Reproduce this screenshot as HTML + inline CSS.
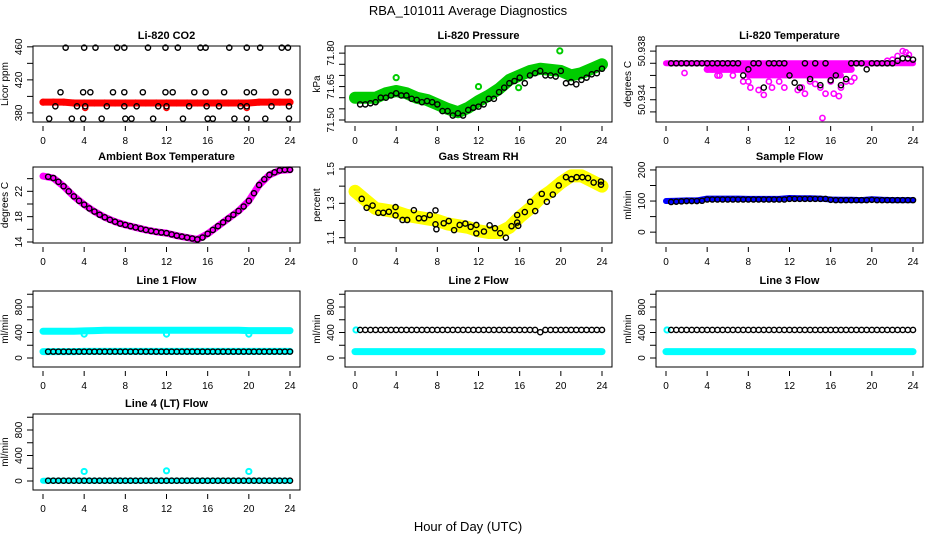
<!DOCTYPE html>
<html><head><meta charset="utf-8">
<style>
html,body{margin:0;padding:0;background:#fff;}
svg{display:block;font-family:"Liberation Sans",sans-serif;}
</style></head>
<body>
<svg id="chart" width="936" height="540" viewBox="0 0 936 540">
<text x="468" y="15" text-anchor="middle" font-size="13">RBA_101011  Average Diagnostics</text>
<text x="468" y="531" text-anchor="middle" font-size="13">Hour of Day (UTC)</text>
</svg>
<script>
const H48 = [0.5,1,1.5,2,2.5,3,3.5,4,4.5,5,5.5,6,6.5,7,7.5,8,8.5,9,9.5,10,10.5,11,11.5,12,12.5,13,13.5,14,14.5,15,15.5,16,16.5,17,17.5,18,18.5,19,19.5,20,20.5,21,21.5,22,22.5,23,23.5,24];
const H25 = [0,1,2,3,4,5,6,7,8,9,10,11,12,13,14,15,16,17,18,19,20,21,22,23,24];
const xTicks = [0,4,8,12,16,20,24];

// CO2
const co2RedV = [393,393,393,392,392,392,392,392,392,392,392,392,392,392,392,392,392,392,392,392,392,393,393,393,393];
const co2BlackH = [2.2,4.0,5.1,7.2,7.9,10.2,11.9,13.1,15.3,15.8,18.1,19.8,21.1,23.2,23.8, 1.7,3.9,4.6,6.8,7.9,9.7,11.9,12.6,14.7,15.8,17.6,19.8,20.5,22.6,23.8, 1.2,3.3,4.1,6.2,7.9,9.1,11.2,12.0,14.2,15.9,17.1,19.2,19.8,22.2,23.9, 0.6,2.8,3.9,5.7,8.0,8.6,10.7,13.6,16.0,16.5,18.6,19.8,21.6,23.9];
const co2BlackV = [459,459,459,459,459,459,459,459,459,459,459,459,459,459,459, 405,405,405,405,405,405,405,405,405,405,405,405,405,405,405, 388,388,388,388,388,388,388,388,388,388,388,388,388,388,388, 373,373,373,373,373,373,373,373,373,373,373,373,373,373];
const co2RedDipH = [4.1,12.0,19.8];
const co2RedDipV = [386,386,386];

// Pressure
const presGreenV = [71.60,71.60,71.60,71.62,71.63,71.62,71.60,71.59,71.57,71.55,71.535,71.555,71.585,71.61,71.64,71.68,71.70,71.72,71.73,71.725,71.72,71.70,71.71,71.73,71.75];
const presBlackV = [71.57,71.57,71.575,71.58,71.60,71.60,71.61,71.62,71.61,71.61,71.595,71.59,71.58,71.585,71.58,71.57,71.54,71.54,71.52,71.53,71.52,71.545,71.555,71.56,71.57,71.595,71.595,71.625,71.645,71.665,71.675,71.69,71.665,71.70,71.71,71.72,71.70,71.70,71.695,71.72,71.665,71.67,71.66,71.68,71.69,71.705,71.71,71.73];
const presOutH = [4.0,12.0,19.9,15.9];
const presOutV = [71.69,71.65,71.81,71.645];

// Li-820 temperature
const tempMainH = [0,24];
const tempMainV = [50.937,50.937];
const tempLayer2H = [4,18];
const tempLayer2V = [50.9365,50.9365];
const tempLayer3H = [8,17];
const tempLayer3V = [50.936,50.936];
const tempScatH = [1.8,4,4.5,5,5.2,6.5,7.5,8,8.2,9,9.5,10,10.3,11,11.5,12,12.8,13.2,13.5,14,14.5,15,15.2,15.5,16,16.3,16.8,17,17.5,18,18.3,21.5,22,22.5,23,23.3,23.6];
const tempScatV = [50.9362,50.9365,50.9365,50.936,50.936,50.936,50.9355,50.9355,50.935,50.9348,50.9344,50.9355,50.935,50.9355,50.935,50.936,50.9348,50.935,50.9345,50.9355,50.9353,50.935,50.9325,50.9345,50.9355,50.9345,50.9343,50.935,50.9355,50.9355,50.9358,50.9372,50.9373,50.9376,50.938,50.9379,50.9377];
const tempBlackV = [50.937,50.937,50.937,50.937,50.937,50.937,50.937,50.937,50.937,50.937,50.937,50.937,50.937,50.937,50.936,50.9365,50.937,50.937,50.935,50.937,50.937,50.937,50.937,50.936,50.9354,50.935,50.937,50.9357,50.937,50.9352,50.937,50.9356,50.936,50.9352,50.9357,50.937,50.937,50.937,50.9365,50.937,50.937,50.937,50.937,50.937,50.9372,50.9374,50.9374,50.9373];

// Ambient
const ambV25 = [24.4,24.1,22.8,21.2,19.9,18.8,17.9,17.2,16.7,16.3,15.9,15.6,15.4,15.0,14.7,14.4,15.3,16.5,17.7,18.9,20.5,23.0,24.6,25.3,25.4];
const ambBlackV = [24.3,24.1,23.5,22.8,22.0,21.2,20.5,19.9,19.3,18.8,18.3,17.9,17.5,17.2,16.9,16.7,16.5,16.3,16.1,15.9,15.75,15.6,15.5,15.4,15.2,15.0,14.85,14.7,14.55,14.4,14.7,15.3,15.9,16.5,17.1,17.7,18.3,18.9,19.6,20.5,21.7,23.0,23.9,24.6,25.0,25.3,25.4,25.4];

// Gas stream RH
const rhYellowV = [1.37,1.32,1.27,1.26,1.25,1.23,1.22,1.21,1.20,1.18,1.17,1.16,1.14,1.13,1.13,1.16,1.22,1.27,1.33,1.37,1.42,1.46,1.46,1.43,1.40];
const rhBlackH = [0.65,1.13,1.71,2.26,2.75,3.29,3.94,3.94,4.62,5.07,5.72,6.20,6.72,7.27,7.82,7.82,7.91,8.62,9.11,9.63,10.17,10.72,11.24,11.79,11.79,12.53,13.08,13.60,14.11,14.66,15.21,15.76,15.76,15.86,16.5,17.02,17.51,18.15,18.64,19.22,19.8,20.5,21.03,21.54,22.09,22.64,23.19,23.9,23.9];
const rhBlackV = [1.326,1.274,1.287,1.245,1.245,1.251,1.278,1.230,1.203,1.203,1.260,1.213,1.213,1.232,1.259,1.178,1.149,1.184,1.197,1.144,1.174,1.182,1.163,1.174,1.125,1.136,1.172,1.155,1.126,1.100,1.167,1.188,1.232,1.169,1.249,1.309,1.255,1.355,1.309,1.351,1.404,1.452,1.441,1.452,1.452,1.447,1.421,1.427,1.408];

// Sample flow
const sampBlueV = [100,101,102,102,108,108,108,108,107,107,107,107,110,109,109,108,105,104,104,103,106,104,103,103,103];
const sampBlackV = [97,98,99,100,100,100,101,105,105,105,105,105,105,105,105,105,105,105,105,105,105,105,105,107,107,107,107,107,107,107,107,104,103,103,103,103,103,103,103,104,103,103,103,103,103,103,103,103];

// Line flows
const l1CyanHiV = [420,420,420,420,425,430,435,435,435,435,435,435,435,435,435,435,435,435,435,435,430,430,430,430,430];
const l1CyanLoV = [100,100,100,100,105,105,105,105,105,105,105,105,105,105,105,105,105,105,105,105,105,105,105,105,105];
const l1DipH = [4,12,20];
const l1DipV = [375,375,375];
const l1BlackV = [100,100,100,100,100,100,100,100,100,100,100,100,100,100,100,100,100,100,100,100,100,100,100,100,100,100,100,100,100,100,100,100,100,100,100,100,100,100,100,100,100,100,100,100,100,100,100,100];
const l2CyanV = [100,100,100,100,100,100,100,100,100,100,100,100,100,100,100,100,100,100,100,100,100,100,100,100,100];
const l2BlackV = [440,440,440,440,440,440,440,440,440,440,440,440,440,440,440,440,440,440,440,440,440,440,440,440,440,440,440,440,440,440,440,440,440,440,440,405,440,440,440,440,440,440,440,440,440,440,440,440];
const l3CyanV = [100,100,100,100,100,100,100,100,100,100,100,100,100,100,100,100,100,100,100,100,100,100,100,100,100];
const l3BlackV = [440,440,440,440,440,440,440,440,440,440,440,440,440,440,440,440,440,440,440,440,440,440,440,440,440,440,440,440,440,440,440,440,440,440,440,440,440,440,440,440,440,440,440,440,440,440,440,440];
const l4CyanV = [5,5,5,5,5,5,5,5,5,5,5,5,5,5,5,5,5,5,5,5,5,5,5,5,5];
const l4SpikeH = [4,12,20];
const l4SpikeV = [150,160,150];
const l4BlackV = [5,5,5,5,5,5,5,5,5,5,5,5,5,5,5,5,5,5,5,5,5,5,5,5,5,5,5,5,5,5,5,5,5,5,5,5,5,5,5,5,5,5,5,5,5,5,5,5];

const NS = "http://www.w3.org/2000/svg";
const svg = document.getElementById('chart');
const colLeft = [33,345,656];
const rowTop = [46,167,291,414];
const PW = 267, PH = 76;

function mk(tag, attrs, parent){
  const e = document.createElementNS(NS, tag);
  for (const k in attrs) e.setAttribute(k, attrs[k]);
  parent.appendChild(e);
  return e;
}

function panel(slug, title, col, row, ymin, ymax, ticks, labels, ylab){
  const left = colLeft[col], top = rowTop[row], bottom = top + PH;
  const g = mk('g', {}, svg);
  
  
  const sx = h => left + 10 + h * (247/24);
  const sy = v => bottom - (v - ymin) / (ymax - ymin) * PH;
  const t = mk('text', {x: left + PW/2, y: top - 7, 'text-anchor': 'middle', 'font-size': 11, 'font-weight': 'bold'}, g);
  t.textContent = title;
  
  
  const xa = mk('g', {stroke: '#000', 'stroke-width': 1}, g);
  
  
  xTicks.forEach(h => {
    mk('line', {x1: sx(h), x2: sx(h), y1: bottom + 4, y2: bottom + 9}, xa);
    const tx = mk('text', {x: sx(h), y: bottom + 22, 'text-anchor': 'middle', 'font-size': 10, stroke: 'none', fill: '#000'}, xa);
    tx.textContent = h;
  });
  const ya = mk('g', {stroke: '#000', 'stroke-width': 1}, g);
  
  
  ticks.forEach(v => {
    mk('line', {x1: left - 6, x2: left, y1: sy(v), y2: sy(v)}, ya);
  });
  labels.forEach(v => {
    const yy = sy(Number(v)), xx = left - 11;
    const tx = mk('text', {x: xx, y: yy, 'text-anchor': 'middle', 'font-size': 10, stroke: 'none', fill: '#000', transform: `rotate(-90 ${xx} ${yy})`}, ya);
    tx.textContent = v;
  });
  const yt = mk('text', {x: left - 25, y: top + PH/2, 'text-anchor': 'middle', 'font-size': 10, transform: `rotate(-90 ${left - 25} ${top + PH/2})`}, g);
  yt.textContent = ylab;
  
  
  const plot = mk('g', {}, g);
  const box = mk('rect', {x: left, y: top, width: PW, height: PH, fill: 'none', stroke: '#000', 'stroke-width': 1}, g);
  
  
  return {g: plot, sx, sy};
}

function band(p, xs, ys, color, w, name){
  const pl = mk('polyline', {points: xs.map((h,i) => p.sx(h) + ',' + p.sy(ys[i])).join(' '), fill: 'none', stroke: color, 'stroke-width': w, 'stroke-linecap': 'round', 'stroke-linejoin': 'round'}, p.g);
  
  
}
function pts(p, xs, ys, color, name, sw){
  const g = mk('g', {fill: 'none', stroke: color, 'stroke-width': sw || 1.4}, p.g);
  
  
  xs.forEach((h,i) => {
    const c = mk('circle', {cx: p.sx(h), cy: p.sy(ys[i]), r: 2.6}, g);
    
    
  });
}

let p = panel('co2', 'Li-820 CO2', 0, 0, 369, 461, [380,400,420,440,460], [380,420,460], 'Licor ppm');
band(p, H25, co2RedV, '#ff0000', 7, 'co2-red-band');
pts(p, H25, co2RedV, '#ff0000', 'co2-red-series', 2);
pts(p, co2RedDipH, co2RedDipV, '#ff0000', 'co2-red-dips');
pts(p, co2BlackH, co2BlackV, '#000', 'co2-black-series');

p = panel('pressure', 'Li-820 Pressure', 1, 0, 71.491, 71.832, [71.50,71.55,71.60,71.65,71.70,71.75,71.80], ['71.50','71.65','71.80'], 'kPa');
band(p, H25, presGreenV, '#00cc00', 12, 'pressure-green-band');
pts(p, H25, presGreenV, '#00cc00', 'pressure-green-series', 2);
pts(p, presOutH, presOutV, '#00cc00', 'pressure-green-outliers', 2);
pts(p, H48, presBlackV, '#000', 'pressure-black-series');

p = panel('li820-temp', 'Li-820 Temperature', 2, 0, 50.93217, 50.93842, [50.933,50.934,50.935,50.936,50.937,50.938], ['50.934','50.938'], 'degrees C');
band(p, tempMainH, tempMainV, '#ff00ff', 6, 'temp-magenta-main-band');
band(p, tempLayer2H, tempLayer2V, '#ff00ff', 7, 'temp-magenta-band-2');
band(p, tempLayer3H, tempLayer3V, '#ff00ff', 6, 'temp-magenta-band-3');
pts(p, tempScatH, tempScatV, '#ff00ff', 'temp-magenta-scatter', 1.6);
pts(p, H48, tempBlackV, '#000', 'temp-black-series');

p = panel('ambient', 'Ambient Box Temperature', 0, 1, 13.84, 25.84, [14,16,18,20,22,24], [14,18,22], 'degrees C');
band(p, H25, ambV25, '#ff00ff', 7, 'ambient-magenta-band');
pts(p, H48, ambBlackV, '#000', 'ambient-black-series');

p = panel('gas-rh', 'Gas Stream RH', 1, 1, 1.069, 1.5115, [1.1,1.2,1.3,1.4,1.5], ['1.1','1.3','1.5'], 'percent');
band(p, H25, rhYellowV, '#ffff00', 13, 'rh-yellow-band');
pts(p, H25, rhYellowV, '#ffff00', 'rh-yellow-series', 2);
pts(p, rhBlackH, rhBlackV, '#000', 'rh-black-series');

p = panel('sample-flow', 'Sample Flow', 2, 1, -34.9, 209.5, [0,50,100,150,200], [0,100,200], 'ml/min');
band(p, H25, sampBlueV, '#0000ff', 6, 'sample-blue-band');
pts(p, H48, sampBlackV, '#000', 'sample-black-series');

const fT = [0,200,400,600,800,1000], fL = [0,400,800];
p = panel('line1-flow', 'Line 1 Flow', 0, 2, -141, 1051, fT, fL, 'ml/min');
band(p, H25, l1CyanHiV, '#00ffff', 7, 'line1-cyan-high-band');
pts(p, l1DipH, l1DipV, '#00ffff', 'line1-cyan-dips', 2);
band(p, H25, l1CyanLoV, '#00ffff', 7, 'line1-cyan-low-band');
pts(p, H48, l1BlackV, '#000', 'line1-black-series');

p = panel('line2-flow', 'Line 2 Flow', 1, 2, -141, 1051, fT, fL, 'ml/min');
band(p, H25, l2CyanV, '#00ffff', 7, 'line2-cyan-band');
pts(p, [0.1], [440], '#00ffff', 'line2-cyan-start', 2);
pts(p, H48, l2BlackV, '#000', 'line2-black-series');

p = panel('line3-flow', 'Line 3 Flow', 2, 2, -141, 1051, fT, fL, 'ml/min');
band(p, H25, l3CyanV, '#00ffff', 7, 'line3-cyan-band');
pts(p, [0.1], [440], '#00ffff', 'line3-cyan-start', 2);
pts(p, H48, l3BlackV, '#000', 'line3-black-series');

p = panel('line4-flow', 'Line 4 (LT) Flow', 0, 3, -141, 1051, fT, fL, 'ml/min');
band(p, H25, l4CyanV, '#00ffff', 6, 'line4-cyan-band');
pts(p, l4SpikeH, l4SpikeV, '#00ffff', 'line4-cyan-spikes', 2);
pts(p, H48, l4BlackV, '#000', 'line4-black-series');
</script>
</body></html>
